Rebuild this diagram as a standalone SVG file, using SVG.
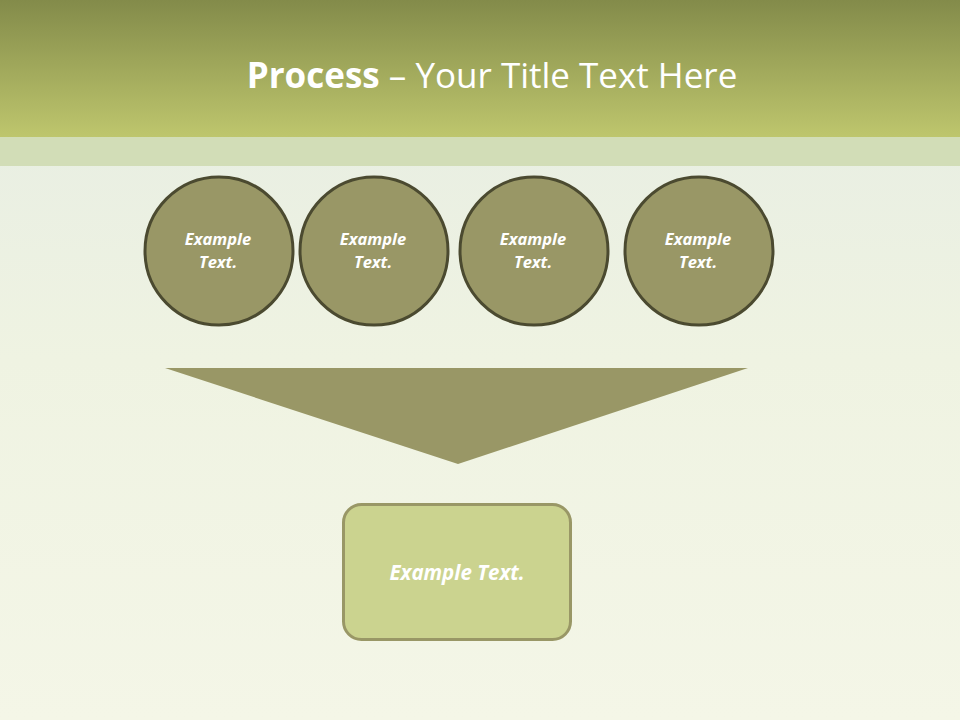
<svg xmlns="http://www.w3.org/2000/svg" width="960" height="720" viewBox="0 0 960 720">
<defs>
<linearGradient id="hdr" x1="0" y1="0" x2="0" y2="1">
<stop offset="0" stop-color="#838b4a"/>
<stop offset="1" stop-color="#bec66d"/>
</linearGradient>
<linearGradient id="bg" x1="0" y1="0" x2="0" y2="1">
<stop offset="0" stop-color="#e5ece3"/>
<stop offset="0.5" stop-color="#eff3e2"/>
<stop offset="1" stop-color="#f4f6e7"/>
</linearGradient>
<style>
.c{fill:#999766;stroke:#4b4a30;stroke-width:3}
.ct{font-family:"Open Sans","Noto Sans",sans-serif;font-weight:bold;font-style:italic;font-size:16.5px;fill:#ffffff;text-anchor:middle}
</style>
</defs>
<rect x="0" y="0" width="960" height="720" fill="url(#bg)"/>
<rect x="0" y="0" width="960" height="137" fill="url(#hdr)"/>
<rect x="0" y="137" width="960" height="29" fill="#d2ddb7"/>
<text x="492" y="88" text-anchor="middle" font-family="'Open Sans','Noto Sans',sans-serif" font-size="35" fill="#ffffff"><tspan font-weight="bold">Process</tspan> – Your Title Text Here</text>
<g id="n1"><circle class="c" cx="219" cy="251" r="74"/><text class="ct" x="218" y="245">Example</text><text class="ct" x="218" y="268">Text.</text></g>
<g id="n2"><circle class="c" cx="374" cy="251" r="74"/><text class="ct" x="373" y="245">Example</text><text class="ct" x="373" y="268">Text.</text></g>
<g id="n3"><circle class="c" cx="534" cy="251" r="74"/><text class="ct" x="533" y="245">Example</text><text class="ct" x="533" y="268">Text.</text></g>
<g id="n4"><circle class="c" cx="699" cy="251" r="74"/><text class="ct" x="698" y="245">Example</text><text class="ct" x="698" y="268">Text.</text></g>
<g id="connectors"><polygon points="165,368 748,368 458,464" fill="#999766"/></g>
<g id="n5"><rect x="343.5" y="504.5" width="227" height="135" rx="18" fill="#cbd38f" stroke="#999766" stroke-width="3"/><text x="457" y="580" text-anchor="middle" font-family="'Open Sans','Noto Sans',sans-serif" font-weight="bold" font-style="italic" font-size="20.5" fill="#ffffff">Example Text.</text></g>
</svg>
